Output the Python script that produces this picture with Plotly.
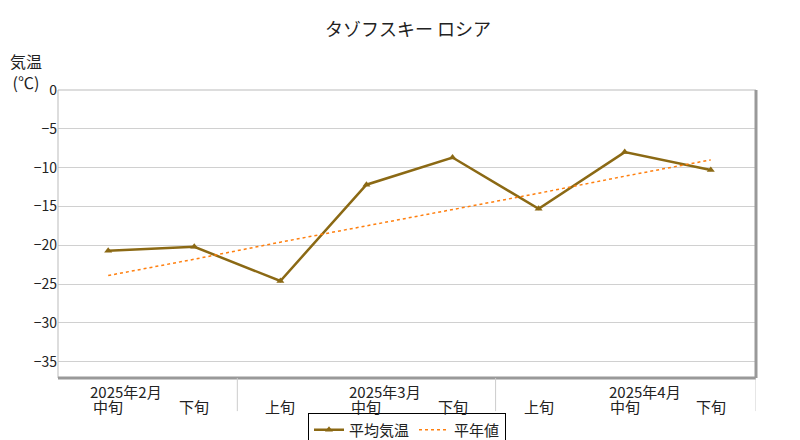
import plotly.graph_objects as go

cats = ["中旬", "下旬", "上旬", "中旬", "下旬", "上旬", "中旬", "下旬"]
months = ["2025年2月", "2025年3月", "2025年4月"]
temp = [-20.7, -20.2, -24.6, -12.2, -8.7, -15.3, -8.0, -10.3]
normal = [-23.9, -21.8, -19.6, -17.5, -15.4, -13.3, -11.1, -9.0]
x = list(range(len(cats)))
F = "Noto Sans CJK JP"

fig = go.Figure()
fig.add_trace(go.Scatter(x=x, y=temp, name="平均気温", mode="lines+markers",
                         line=dict(color="#8B6914", width=2.5),
                         marker=dict(symbol="triangle-up", size=7, color="#8B6914")))
fig.add_trace(go.Scatter(x=x, y=normal, name="平年値", mode="lines",
                         line=dict(color="#FF7F0E", width=1.5, dash="dot")))
fig.update_layout(
    width=800, height=440, plot_bgcolor="white", paper_bgcolor="white",
    margin=dict(l=50, r=52, t=82, b=70, autoexpand=False),
    font=dict(family=F, size=14, color="#222"),
    title=dict(text="タゾフスキー ロシア", x=0.5, y=0.95, xanchor="center", yanchor="middle",
               font=dict(size=18)),
    showlegend=True,
    legend=dict(orientation="h", x=0.5, xanchor="center", y=-0.12, yanchor="top",
                bordercolor="black", borderwidth=1, font=dict(size=15),
                tracegroupgap=0, itemwidth=30),
    xaxis=dict(range=[-0.583, 7.525], tickvals=x, showticklabels=False, showgrid=False,
               zeroline=False, ticks="", automargin=False),
    yaxis=dict(range=[-37.1, 0], tickvals=[0, -5, -10, -15, -20, -25, -30, -35],
               gridcolor="#d0d0d0", zeroline=False, ticks="", tickfont=dict(size=14),
               automargin=False),
)
fig.add_shape(type="rect", xref="paper", yref="paper", x0=0, x1=1, y0=0, y1=1,
              line=dict(color="#bbbbbb", width=1))
fig.add_shape(type="line", xref="paper", yref="paper", x0=0, x1=1, y0=0, y1=0,
              line=dict(color="#999999", width=3))
fig.add_shape(type="line", xref="paper", yref="paper", x0=1, x1=1, y0=0, y1=1,
              line=dict(color="#999999", width=3))
for sx in [1.5, 4.5, 7.525]:
    fig.add_shape(type="line", xref="x", yref="paper", x0=sx, x1=sx, y0=0, y1=-0.115,
                  line=dict(color="#cccccc", width=1))
for cx, c in zip(x, cats):
    fig.add_annotation(x=cx, y=-0.055, xref="x", yref="paper", text=c, showarrow=False,
                       yanchor="top", font=dict(size=15))
for mx, m in zip([0.21, 3.22, 6.23], months):
    fig.add_annotation(x=mx, y=-0.005, xref="x", yref="paper", text=m, showarrow=False,
                       yanchor="top", font=dict(size=15))
fig.add_annotation(x=-0.072, y=1.15, xref="paper", yref="paper", text="気温<br>(℃)",
                   showarrow=False, xanchor="left", yanchor="top", align="center",
                   font=dict(size=16))
fig.add_annotation(x=1.0, y=-0.2, xref="paper", yref="paper", text="<b>CPD/JMA</b>",
                   showarrow=False, xanchor="right", yanchor="top",
                   font=dict(size=11, family="DejaVu Sans Mono"))
fig.write_html("out.html")
